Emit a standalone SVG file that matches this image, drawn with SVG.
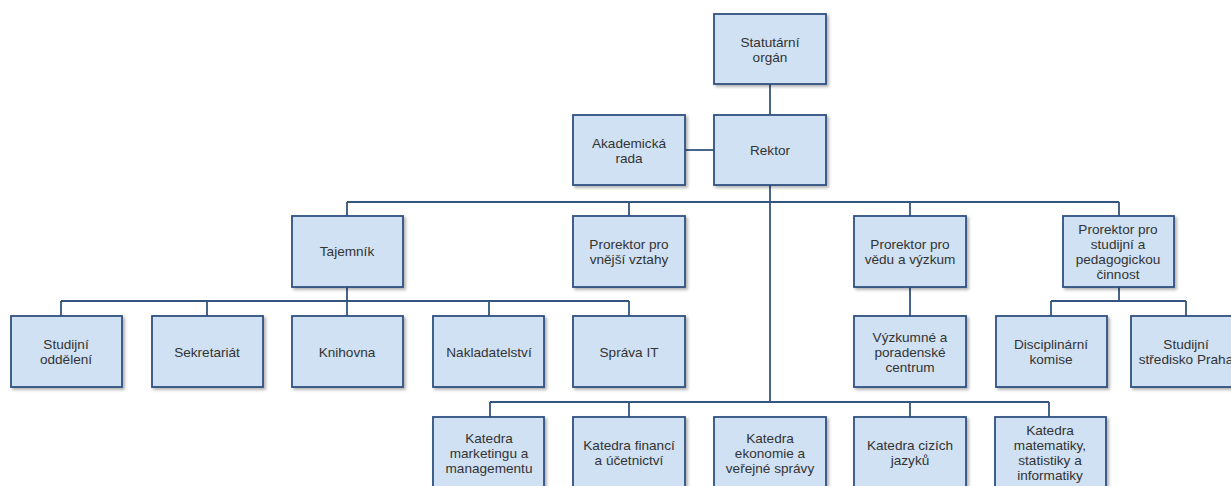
<svg xmlns="http://www.w3.org/2000/svg" width="1231" height="486" viewBox="0 0 1231 486">
<defs>
<filter id="sh" x="-10%" y="-10%" width="130%" height="130%">
<feDropShadow dx="2" dy="2" stdDeviation="1.5" flood-color="#000" flood-opacity="0.3"/>
</filter>
<style>
.b rect{fill:#cfe1f3;stroke:#2f5080;stroke-width:1.8;filter:url(#sh)}
.b text{font-family:"Liberation Sans",Arial,sans-serif;font-size:13.6px;fill:#333;text-anchor:middle}
.c path{fill:none;stroke:#33557f;stroke-width:1.8}
</style>
</defs>
<rect width="1231" height="486" fill="#fff"/>
<g class="c" id="connectors">
<path d="M770 84V115"/>
<path d="M685 150H714"/>
<path d="M770 185V402"/>
<path d="M347 202H1119M347 202V216M629 202V216M910 202V216M1119 202V216"/>
<path d="M347 287V301M61 301H629M61 301V316M207 301V316M347 301V316M489 301V316M629 301V316"/>
<path d="M910 287V316"/>
<path d="M1119 287V301M1051 301H1186M1051 301V316M1186 301V316"/>
<path d="M490 402H1049M490 402V417M629 402V417M910 402V417M1049 402V417"/>
</g>
<g class="b" id="n-statutarni"><rect x="714" y="14" width="112" height="70"/><text x="770" y="47">Statutární</text><text x="770" y="62">orgán</text></g>
<g class="b" id="n-rektor"><rect x="714" y="115" width="112" height="70"/><text x="770" y="155">Rektor</text></g>
<g class="b" id="n-akademicka"><rect x="573" y="115" width="112" height="70"/><text x="629" y="148">Akademická</text><text x="629" y="163">rada</text></g>
<g class="b" id="n-tajemnik"><rect x="292" y="216" width="111" height="71"/><text x="347" y="256">Tajemník</text></g>
<g class="b" id="n-prorektor-vnejsi"><rect x="573" y="216" width="112" height="71"/><text x="629" y="249">Prorektor pro</text><text x="629" y="264">vnější vztahy</text></g>
<g class="b" id="n-prorektor-veda"><rect x="854" y="216" width="112" height="71"/><text x="910" y="249">Prorektor pro</text><text x="910" y="264">vědu a výzkum</text></g>
<g class="b" id="n-prorektor-studijni"><rect x="1063" y="216" width="111" height="71"/><text x="1118" y="234">Prorektor pro</text><text x="1118" y="249">studijní a</text><text x="1118" y="264">pedagogickou</text><text x="1118" y="279">činnost</text></g>
<g class="b" id="n-studijni-oddeleni"><rect x="11" y="316" width="111" height="71"/><text x="66" y="349">Studijní</text><text x="66" y="364">oddělení</text></g>
<g class="b" id="n-sekretariat"><rect x="152" y="316" width="111" height="71"/><text x="207" y="357">Sekretariát</text></g>
<g class="b" id="n-knihovna"><rect x="292" y="316" width="111" height="71"/><text x="347" y="357">Knihovna</text></g>
<g class="b" id="n-nakladatelstvi"><rect x="433" y="316" width="111" height="71"/><text x="489" y="357">Nakladatelství</text></g>
<g class="b" id="n-sprava-it"><rect x="573" y="316" width="112" height="71"/><text x="629" y="357">Správa IT</text></g>
<g class="b" id="n-vyzkumne"><rect x="854" y="316" width="112" height="71"/><text x="910" y="342">Výzkumné a</text><text x="910" y="357">poradenské</text><text x="910" y="372">centrum</text></g>
<g class="b" id="n-disciplinarni"><rect x="996" y="316" width="111" height="71"/><text x="1051" y="349">Disciplinární</text><text x="1051" y="364">komise</text></g>
<g class="b" id="n-stredisko"><rect x="1131" y="316" width="111" height="71"/><text x="1186" y="349">Studijní</text><text x="1186" y="364">středisko Praha</text></g>
<g class="b" id="n-k-marketing"><rect x="433" y="417" width="111" height="71"/><text x="489" y="443">Katedra</text><text x="489" y="458">marketingu a</text><text x="489" y="473">managementu</text></g>
<g class="b" id="n-k-financi"><rect x="573" y="417" width="112" height="71"/><text x="629" y="450">Katedra financí</text><text x="629" y="465">a účetnictví</text></g>
<g class="b" id="n-k-ekonomie"><rect x="714" y="417" width="112" height="71"/><text x="770" y="443">Katedra</text><text x="770" y="458">ekonomie a</text><text x="770" y="473">veřejné správy</text></g>
<g class="b" id="n-k-cizich"><rect x="854" y="417" width="112" height="71"/><text x="910" y="450">Katedra cizích</text><text x="910" y="465">jazyků</text></g>
<g class="b" id="n-k-matematiky"><rect x="995" y="417" width="111" height="71"/><text x="1050" y="435">Katedra</text><text x="1050" y="450">matematiky,</text><text x="1050" y="465">statistiky a</text><text x="1050" y="480">informatiky</text></g>
</svg>
